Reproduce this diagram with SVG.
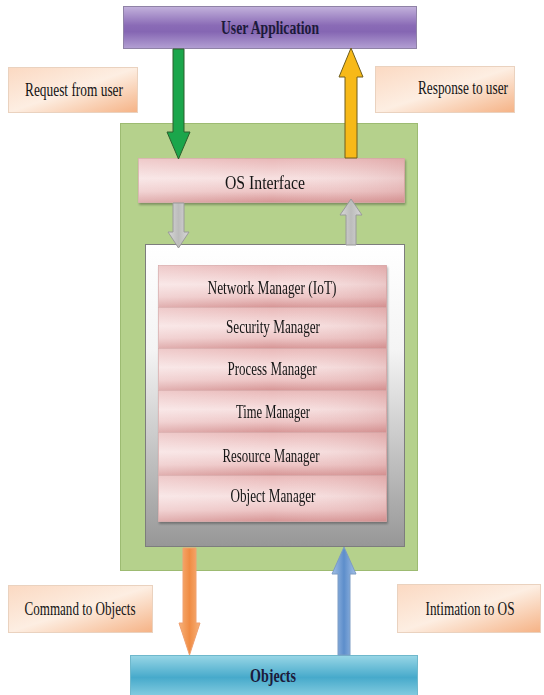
<svg xmlns="http://www.w3.org/2000/svg" width="544" height="695" viewBox="0 0 544 695">
  <defs>
    <linearGradient id="gPurple" x1="0" y1="0" x2="0" y2="1">
      <stop offset="0" stop-color="#c3b2dc"/>
      <stop offset="0.45" stop-color="#8a6bb6"/>
      <stop offset="0.6" stop-color="#8566b3"/>
      <stop offset="1" stop-color="#b3a0d3"/>
    </linearGradient>
    <linearGradient id="gPeach" x1="0" y1="0" x2="1" y2="1">
      <stop offset="0" stop-color="#fbd9c2"/>
      <stop offset="0.5" stop-color="#fdeee2"/>
      <stop offset="1" stop-color="#f5b285"/>
    </linearGradient>
    <linearGradient id="gPink" x1="0" y1="0" x2="0" y2="1">
      <stop offset="0" stop-color="#e9b8b8"/>
      <stop offset="0.45" stop-color="#f7e0e0"/>
      <stop offset="0.75" stop-color="#edc4c4"/>
      <stop offset="1" stop-color="#d69494"/>
    </linearGradient>
    <linearGradient id="gPinkSide" x1="0" y1="0" x2="1" y2="0">
      <stop offset="0" stop-color="#ffffff" stop-opacity="0.25"/>
      <stop offset="0.5" stop-color="#ffffff" stop-opacity="0"/>
      <stop offset="1" stop-color="#c97f7f" stop-opacity="0.25"/>
    </linearGradient>
    <linearGradient id="gFrame" x1="0" y1="0" x2="0" y2="1">
      <stop offset="0" stop-color="#ffffff"/>
      <stop offset="0.35" stop-color="#f4f4f4"/>
      <stop offset="1" stop-color="#979797"/>
    </linearGradient>
    <linearGradient id="gTeal" x1="0" y1="0" x2="0" y2="1">
      <stop offset="0" stop-color="#98d6e6"/>
      <stop offset="0.5" stop-color="#47aacb"/>
      <stop offset="1" stop-color="#8fd2e4"/>
    </linearGradient>
    <linearGradient id="gOrange" x1="0" y1="0" x2="1" y2="0">
      <stop offset="0" stop-color="#f7b27a"/>
      <stop offset="0.5" stop-color="#f08c44"/>
      <stop offset="1" stop-color="#f7b27a"/>
    </linearGradient>
    <linearGradient id="gBlue" x1="0" y1="0" x2="1" y2="0">
      <stop offset="0" stop-color="#a3c0e6"/>
      <stop offset="0.5" stop-color="#5d8ecb"/>
      <stop offset="1" stop-color="#a3c0e6"/>
    </linearGradient>
    <linearGradient id="gGray" x1="0" y1="0" x2="1" y2="0">
      <stop offset="0" stop-color="#d8d8d8"/>
      <stop offset="0.5" stop-color="#bcbcbc"/>
      <stop offset="1" stop-color="#d8d8d8"/>
    </linearGradient>
    <filter id="shadow" x="-5%" y="-10%" width="110%" height="130%">
      <feDropShadow dx="1" dy="2" stdDeviation="1.2" flood-color="#000" flood-opacity="0.3"/>
    </filter>
  </defs>
  <style>
    text { font-family: "Liberation Serif", "Times New Roman", serif; font-size: 18px; fill: #141414; text-anchor: middle; }
    .bold { font-weight: bold; fill: #1c1a3a; }
    .peach { fill: url(#gPeach); stroke: #ead2bf; stroke-width: 1; }
    .pink { fill: url(#gPink); stroke: #d8a8a8; stroke-width: 0.8; }
    .sheen { fill: url(#gPinkSide); }
  </style>

  <!-- outer OS container -->
  <g id="os-container">
    <rect x="120.5" y="123.5" width="297" height="447" fill="#b5d18c" stroke="#9dbb72" stroke-width="1"/>
  </g>

  <!-- top application -->
  <g id="user-application">
    <rect x="123.5" y="6.5" width="293" height="42" fill="url(#gPurple)" stroke="#8f82a6" stroke-width="1"/>
    <text class="bold" x="270" y="34" textLength="98" lengthAdjust="spacingAndGlyphs">User Application</text>
  </g>

  <!-- side labels -->
  <g id="label-request">
    <rect class="peach" x="8.5" y="67.5" width="129" height="45"/>
    <text x="74" y="96" textLength="98" lengthAdjust="spacingAndGlyphs">Request from user</text>
  </g>
  <g id="label-response">
    <rect class="peach" x="375.5" y="66.5" width="139" height="46"/>
    <text x="463" y="94" textLength="90" lengthAdjust="spacingAndGlyphs">Response to user</text>
  </g>
  <g id="label-command">
    <rect class="peach" x="8.5" y="585.5" width="144" height="47"/>
    <text x="80" y="615" textLength="111" lengthAdjust="spacingAndGlyphs">Command to Objects</text>
  </g>
  <g id="label-intimation">
    <rect class="peach" x="397.5" y="584.5" width="143" height="48"/>
    <text x="470" y="615" textLength="89" lengthAdjust="spacingAndGlyphs">Intimation to OS</text>
  </g>

  <!-- OS interface layer -->
  <g id="os-interface" filter="url(#shadow)">
    <rect class="pink" x="138.5" y="158.5" width="266" height="44"/>
    <rect class="sheen" x="138.5" y="158.5" width="266" height="44"/>
    <text x="265" y="189" textLength="80" lengthAdjust="spacingAndGlyphs">OS Interface</text>
  </g>

  <!-- kernel frame holding the managers -->
  <g id="kernel-frame">
    <rect x="145.5" y="244.5" width="259" height="302" fill="url(#gFrame)" stroke="#7d7d7d" stroke-width="1"/>
  </g>

  <g id="managers" filter="url(#shadow)">
    <g id="network-manager">
      <rect class="pink" x="158.5" y="265.5" width="228" height="42"/>
      <rect class="sheen" x="158.5" y="265.5" width="228" height="42"/>
      <text x="272" y="294" textLength="129" lengthAdjust="spacingAndGlyphs">Network Manager  (IoT)</text>
    </g>
    <g id="security-manager">
      <rect class="pink" x="158.5" y="307.5" width="228" height="41"/>
      <rect class="sheen" x="158.5" y="307.5" width="228" height="41"/>
      <text x="273" y="333" textLength="94" lengthAdjust="spacingAndGlyphs">Security Manager</text>
    </g>
    <g id="process-manager">
      <rect class="pink" x="158.5" y="348.5" width="228" height="42"/>
      <rect class="sheen" x="158.5" y="348.5" width="228" height="42"/>
      <text x="272" y="375" textLength="89" lengthAdjust="spacingAndGlyphs">Process Manager</text>
    </g>
    <g id="time-manager">
      <rect class="pink" x="158.5" y="390.5" width="228" height="42"/>
      <rect class="sheen" x="158.5" y="390.5" width="228" height="42"/>
      <text x="273" y="418" textLength="74" lengthAdjust="spacingAndGlyphs">Time Manager</text>
    </g>
    <g id="resource-manager">
      <rect class="pink" x="158.5" y="432.5" width="228" height="43"/>
      <rect class="sheen" x="158.5" y="432.5" width="228" height="43"/>
      <text x="271" y="462" textLength="97" lengthAdjust="spacingAndGlyphs">Resource Manager</text>
    </g>
    <g id="object-manager">
      <rect class="pink" x="158.5" y="475.5" width="228" height="46"/>
      <rect class="sheen" x="158.5" y="475.5" width="228" height="46"/>
      <text x="273" y="502" textLength="85" lengthAdjust="spacingAndGlyphs">Object Manager</text>
    </g>
  </g>

  <!-- physical objects -->
  <g id="objects">
    <rect x="130.5" y="655.5" width="287" height="44" fill="url(#gTeal)" stroke="#6fb8cc" stroke-width="1"/>
    <text class="bold" x="273" y="682" textLength="46" lengthAdjust="spacingAndGlyphs">Objects</text>
  </g>

  <!-- block-arrow connectors -->
  <g id="connectors" stroke-width="1" stroke-linejoin="miter">
    <polygon points="173,49 184,49 184,132 190,132 178.5,159 167,132 173,132" fill="#1ba64b" stroke="#2c5e2c"/>
    <polygon points="351,48 363,77 357,77 357,158 345,158 345,77 339,77" fill="#f7b918" stroke="#6e5d1c"/>
    <polygon points="173,203 184,203 184,232 189,232 178.5,248 168,232 173,232" fill="url(#gGray)" stroke="#9a9a9a"/>
    <polygon points="351,199 362,215 356,215 356,245 346,245 346,215 340,215" fill="url(#gGray)" stroke="#9a9a9a"/>
    <polygon points="183,548 196,548 196,623 200,623 189.5,655 179,623 183,623" fill="url(#gOrange)" stroke="#f0a070"/>
    <polygon points="344,547 356,574 350,574 350,655 338,655 338,574 332,574" fill="url(#gBlue)" stroke="#7d9cc4"/>
  </g>
</svg>
